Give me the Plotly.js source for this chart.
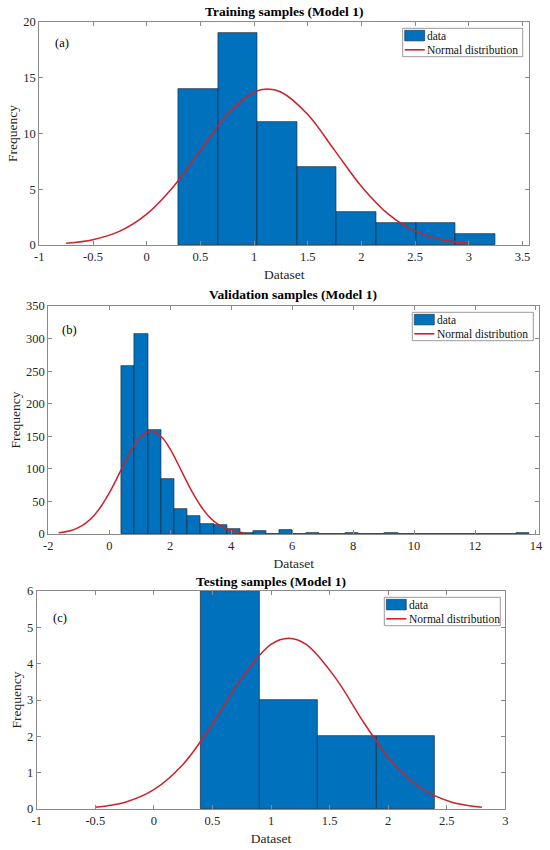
<!DOCTYPE html>
<html>
<head>
<meta charset="utf-8">
<script src="https://cdn.plot.ly/plotly-3.0.1.min.js"></script>
<style>html,body{margin:0;padding:0;background:#fff;}#chart{width:550px;height:850px;}</style>
</head>
<body>
<div id="chart"></div>
<script>
// ---- Data ----
const titles = ["Training samples (Model 1)", "Validation samples (Model 1)", "Testing samples (Model 1)"];
const panelTags = ["(a)", "(b)", "(c)"];
const legendNames = ["data", "Normal distribution"];
const xLabel = "Dataset";
const yLabel = "Frequency";

// (a) Training
const edgesA = [0.294, 0.663, 1.032, 1.401, 1.770, 2.139, 2.508, 2.877, 3.246];
const countsA = [14, 19, 11, 7, 3, 2, 2, 1];
const fitAx = [-0.75, -0.5, -0.25, 0, 0.25, 0.5, 0.75, 1.0, 1.125, 1.25, 1.5, 1.75, 2.0, 2.25, 2.5, 2.75, 3.0];
const fitAy = [0.16, 0.48, 1.24, 2.77, 5.25, 8.49, 11.7, 13.72, 14.0, 13.72, 11.7, 8.49, 5.25, 2.77, 1.24, 0.48, 0.16];

// (b) Validation
const edgesB = [0.40, 0.83, 1.27, 1.70, 2.13, 2.56, 3.00, 3.43, 3.86, 4.29, 4.72, 5.15, 5.58, 6.02, 6.45, 6.88,
                7.31, 7.74, 8.17, 8.61, 9.04, 9.47, 9.90, 10.33, 10.76, 11.20, 11.63, 12.06, 12.49, 12.92, 13.35, 13.78];
const countsB = [258, 307, 159, 85, 38, 28, 15, 14, 7, 2, 4, 0, 6, 0, 1, 0, 0, 1, 0, 0, 1, 0, 0, 0, 0, 0, 0, 0, 0, 0, 1];
const fitBx = [-1.66, -1.25, -1.0, -0.75, -0.5, -0.25, 0, 0.25, 0.5, 0.75, 1.0, 1.37, 1.74, 1.99, 2.24, 2.49, 2.74, 2.99, 3.24, 3.49, 3.74, 3.99, 4.4];
const fitBy = [1.8, 5.5, 10.1, 17.5, 28.5, 43.7, 63, 85.4, 109, 130.9, 147.7, 158, 147.7, 130.9, 109, 85.4, 63, 43.7, 28.5, 17.5, 10.1, 5.5, 1.8];

// (c) Testing
const edgesC = [0.4, 0.9, 1.4, 1.9, 2.4];
const countsC = [6, 3, 2, 2];
const fitCx = [-0.5, -0.25, 0, 0.25, 0.5, 0.75, 1.0, 1.15, 1.3, 1.55, 1.8, 2.05, 2.3, 2.55, 2.8];
const fitCy = [0.05, 0.18, 0.53, 1.23, 2.34, 3.61, 4.53, 4.7, 4.53, 3.61, 2.34, 1.23, 0.53, 0.18, 0.05];

const xTicksA = [-1, -0.5, 0, 0.5, 1, 1.5, 2, 2.5, 3, 3.5];
const yTicksA = [0, 5, 10, 15, 20];
const xTicksB = [-2, 0, 2, 4, 6, 8, 10, 12, 14];
const yTicksB = [0, 50, 100, 150, 200, 250, 300, 350];
const xTicksC = [-1, -0.5, 0, 0.5, 1, 1.5, 2, 2.5, 3];
const yTicksC = [0, 1, 2, 3, 4, 5, 6];

// ---- Styling / layout helpers ----
const W = 550, H = 850;
const px = v => v / W;
const py = v => 1 - v / H;
const FONT = "'Liberation Serif', 'Times New Roman', serif";
const BAR_COLOR = "#0072BD";
const FIT_COLOR = "#cc2229";
const TXT = "#262626";
const AXC = "#8a8a8a";

function centers(edges) { return edges.slice(0, -1).map((e, i) => (e + edges[i + 1]) / 2); }
function widths(edges) { return edges.slice(0, -1).map((e, i) => edges[i + 1] - e); }

const panels = [
  {edges: edgesA, counts: countsA, fx: fitAx, fy: fitAy, xs: "x", ys: "y"},
  {edges: edgesB, counts: countsB, fx: fitBx, fy: fitBy, xs: "x2", ys: "y2"},
  {edges: edgesC, counts: countsC, fx: fitCx, fy: fitCy, xs: "x3", ys: "y3"}
];

const traces = [];
panels.forEach(p => {
  traces.push({
    type: "bar", x: centers(p.edges), y: p.counts, width: widths(p.edges),
    xaxis: p.xs, yaxis: p.ys, name: legendNames[0], showlegend: false,
    marker: {color: BAR_COLOR, line: {color: "#1a2a3a", width: 0.7}},
    hoverinfo: "x+y"
  });
  traces.push({
    type: "scatter", mode: "lines", x: p.fx, y: p.fy,
    xaxis: p.xs, yaxis: p.ys, name: legendNames[1], showlegend: false,
    line: {color: FIT_COLOR, width: 1.5, shape: "spline", smoothing: 1}
  });
});

function xaxis(domain, range, ticks, anchor, standoff) {
  return {
    domain: domain, range: range, anchor: anchor,
    tickvals: ticks, ticktext: ticks.map(String),
    ticks: "inside", ticklen: 4, tickcolor: AXC, tickwidth: 1,
    showline: true, linecolor: AXC, linewidth: 1, mirror: "ticks",
    showgrid: false, zeroline: false, fixedrange: true,
    tickfont: {family: FONT, size: 12.5, color: TXT},
    title: {text: xLabel, font: {family: FONT, size: 13.5, color: TXT}, standoff: standoff}
  };
}
function yaxis(domain, range, ticks, anchor, standoff) {
  return {
    domain: domain, range: range, anchor: anchor,
    tickvals: ticks, ticktext: ticks.map(String),
    ticks: "inside", ticklen: 4, tickcolor: AXC, tickwidth: 1,
    showline: true, linecolor: AXC, linewidth: 1, mirror: "ticks",
    showgrid: false, zeroline: false, fixedrange: true,
    tickfont: {family: FONT, size: 12.5, color: TXT},
    title: {text: yLabel, font: {family: FONT, size: 13.5, color: TXT}, standoff: standoff}
  };
}

const titlePos = [[284, 11.5], [293, 294], [271, 581]];
const tagPos = [[62, 43], [69, 330], [60, 618]];
// legend boxes: [left, top, width]
const legendBoxes = [[402.7, 28.3, 120], [412.3, 312.3, 121], [384.3, 597.3, 116]];

const annotations = [];
const shapes = [];
titles.forEach((t, i) => annotations.push({
  text: "<b>" + t + "</b>", xref: "paper", yref: "paper",
  x: px(titlePos[i][0]), y: py(titlePos[i][1]), xanchor: "center", yanchor: "middle",
  showarrow: false, font: {family: FONT, size: 13.5, color: "#000"}
}));
panelTags.forEach((t, i) => annotations.push({
  text: t, xref: "paper", yref: "paper",
  x: px(tagPos[i][0]), y: py(tagPos[i][1]), xanchor: "center", yanchor: "middle",
  showarrow: false, font: {family: FONT, size: 12.5, color: "#000"}
}));
legendBoxes.forEach(([L, T, Wd]) => {
  shapes.push({type: "rect", xref: "paper", yref: "paper", x0: px(L), x1: px(L + Wd), y0: py(T + 28.4), y1: py(T),
               line: {color: "#9a9a9a", width: 1}, fillcolor: "#ffffff", layer: "above"});
  shapes.push({type: "rect", xref: "paper", yref: "paper", x0: px(L + 2), x1: px(L + 22), y0: py(T + 12.6), y1: py(T + 2),
               line: {color: "#1a2a3a", width: 0.6}, fillcolor: BAR_COLOR, layer: "above"});
  shapes.push({type: "line", xref: "paper", yref: "paper", x0: px(L + 2), x1: px(L + 22), y0: py(T + 21.5), y1: py(T + 21.5),
               line: {color: FIT_COLOR, width: 1.6}, layer: "above"});
  annotations.push({text: legendNames[0], xref: "paper", yref: "paper", x: px(L + 22.5), y: py(T + 7.3),
                    xanchor: "left", yanchor: "middle", showarrow: false,
                    font: {family: FONT, size: 11.5, color: "#111"}});
  annotations.push({text: legendNames[1], xref: "paper", yref: "paper", x: px(L + 22.5), y: py(T + 21.5),
                    xanchor: "left", yanchor: "middle", showarrow: false,
                    font: {family: FONT, size: 11.5, color: "#111"}});
});

const layout = {
  width: W, height: H, margin: {l: 0, r: 0, t: 0, b: 0},
  paper_bgcolor: "#ffffff", plot_bgcolor: "#ffffff",
  showlegend: false, barmode: "overlay", bargap: 0,
  xaxis:  xaxis([px(39.3), px(529)], [-1, 3.56], xTicksA, "y", 6),
  yaxis:  yaxis([py(245), py(22)], [0, 20], yTicksA, "x", 2),
  xaxis2: xaxis([px(48.3), px(539)], [-2, 14.1], xTicksB, "y2", 6),
  yaxis2: yaxis([py(534), py(306)], [0, 350], yTicksB, "x2", 2),
  xaxis3: xaxis([px(36.7), px(505.3)], [-1, 3], xTicksC, "y3", 6),
  yaxis3: yaxis([py(809), py(591)], [0, 6], yTicksC, "x3", 2),
  annotations: annotations,
  shapes: shapes
};

Plotly.newPlot("chart", traces, layout, {displayModeBar: false});
</script>
</body>
</html>
